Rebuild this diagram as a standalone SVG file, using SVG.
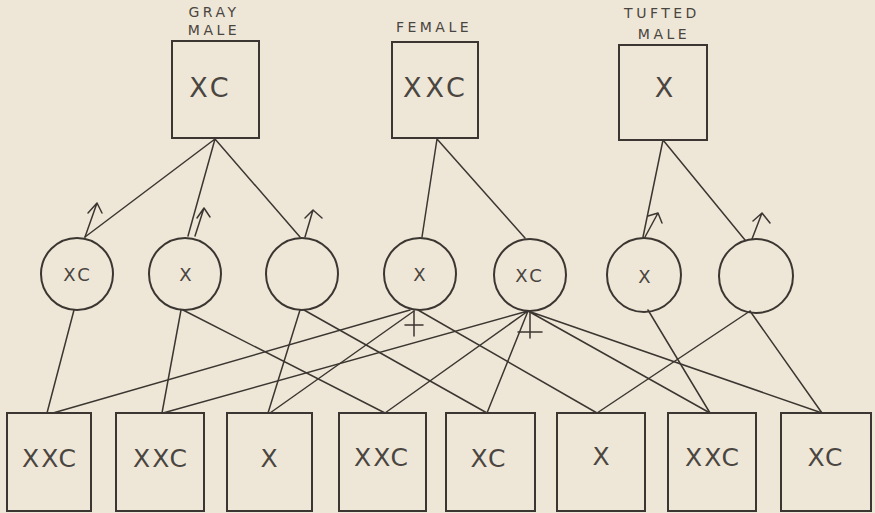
<svg xmlns="http://www.w3.org/2000/svg" width="875" height="513" viewBox="0 0 875 513">
<style>
.bg{fill:#eee7d7}
.box{fill:none;stroke:#3b3631;stroke-width:2}
.circ{fill:none;stroke:#3b3631;stroke-width:2}
.ln{fill:none;stroke:#3b3631;stroke-width:1.5;stroke-linecap:round;stroke-linejoin:round}
.lbl{font-family:"DejaVu Sans",sans-serif;font-size:14px;letter-spacing:3.5px;fill:#4a4540;text-anchor:middle}
.big{font-family:"DejaVu Sans",sans-serif;font-size:27px;letter-spacing:4px;fill:#4a4540;text-anchor:middle}
.mid{font-family:"DejaVu Sans",sans-serif;font-size:25px;letter-spacing:2px;fill:#4a4540;text-anchor:middle}
.sm{font-family:"DejaVu Sans",sans-serif;font-size:18px;letter-spacing:3px;fill:#4a4540;text-anchor:middle}
</style>
<rect class="bg" x="0" y="0" width="875" height="513"/>
<g id="connectors">
<path class="ln" d="M215 139 L85 237 M215 139 L188 236 M215 139 L300 237"/>
<path class="ln" d="M437 139 L422 237 M437 139 L525 238"/>
<path class="ln" d="M663 140 L643 237 M663 140 L745 240"/>
<path class="ln" d="M74 310 L47 413 M181 310 L162 413 M183 310 L385 413 M300 310 L268 413 M304 310 L487 413"/>
<path class="ln" d="M410 310 L53 413 M414 311 L270 413 M418 310 L597 413"/>
<path class="ln" d="M528 311 L163 413 M528 311 L385 413 M528 311 L487 413 M528 311 L710 413 M528 311 L822 413"/>
<path class="ln" d="M648 310 L710 413 M750 311 L597 413 M750 311 L822 413"/>
</g>
<g id="gray-male">
<text class="lbl" x="214" y="17">GRAY</text>
<text class="lbl" x="214" y="35">MALE</text>
<rect class="box" x="172" y="41" width="87" height="97"/>
<text class="big" x="211" y="97">XC</text>
</g>
<g id="female">
<text class="lbl" x="434" y="32">FEMALE</text>
<rect class="box" x="392" y="42" width="86" height="96"/>
<text class="big" x="436" y="97">XXC</text>
</g>
<g id="tufted-male">
<text class="lbl" x="662" y="18">TUFTED</text>
<text class="lbl" x="664" y="39">MALE</text>
<rect class="box" x="619" y="45" width="88" height="95"/>
<text class="big" x="666" y="97">X</text>
</g>
<g id="g1">
<circle class="circ" cx="77" cy="274" r="36"/>
<text class="sm" x="78" y="281">XC</text>
<path class="ln" d="M85 237 L97 203 M88 213 L97 203 L102 213"/>
</g>
<g id="g2">
<circle class="circ" cx="185" cy="274" r="36"/>
<text class="sm" x="187" y="281">X</text>
<path class="ln" d="M195 236 L204 208 M197 218 L204 208 L210 217"/>
</g>
<g id="g3">
<circle class="circ" cx="302" cy="274" r="36"/>
<path class="ln" d="M305 237 L313 210 M305 218 L313 210 L322 218"/>
</g>
<g id="g4">
<circle class="circ" cx="420" cy="274" r="36"/>
<text class="sm" x="421" y="281">X</text>
<path class="ln" d="M414 311 L414 336 M405 325 L423 325"/>
</g>
<g id="g5">
<circle class="circ" cx="530" cy="275" r="36"/>
<text class="sm" x="530" y="282">XC</text>
<path class="ln" d="M530 311 L530 338 M518 332 L542 332"/>
</g>
<g id="g6">
<circle class="circ" cx="644" cy="275" r="37"/>
<text class="sm" x="646" y="283">X</text>
<path class="ln" d="M645 237 L658 213 M648 216 L658 213 L662 223"/>
</g>
<g id="g7">
<circle class="circ" cx="756" cy="276" r="37"/>
<path class="ln" d="M752 239 L762 213 M753 221 L762 213 L770 223"/>
</g>
<g id="o1"><rect class="box" x="7" y="413" width="84" height="98"/><text class="mid" x="50" y="467">XXC</text></g>
<g id="o2"><rect class="box" x="116" y="413" width="88" height="98"/><text class="mid" x="161" y="467">XXC</text></g>
<g id="o3"><rect class="box" x="227" y="413" width="85" height="98"/><text class="mid" x="270" y="467">X</text></g>
<g id="o4"><rect class="box" x="339" y="413" width="87" height="98"/><text class="mid" x="382" y="466">XXC</text></g>
<g id="o5"><rect class="box" x="446" y="413" width="89" height="98"/><text class="mid" x="489" y="467">XC</text></g>
<g id="o6"><rect class="box" x="557" y="413" width="88" height="98"/><text class="mid" x="602" y="465">X</text></g>
<g id="o7"><rect class="box" x="668" y="413" width="88" height="98"/><text class="mid" x="713" y="466">XXC</text></g>
<g id="o8"><rect class="box" x="781" y="413" width="90" height="98"/><text class="mid" x="826" y="466">XC</text></g>
</svg>
